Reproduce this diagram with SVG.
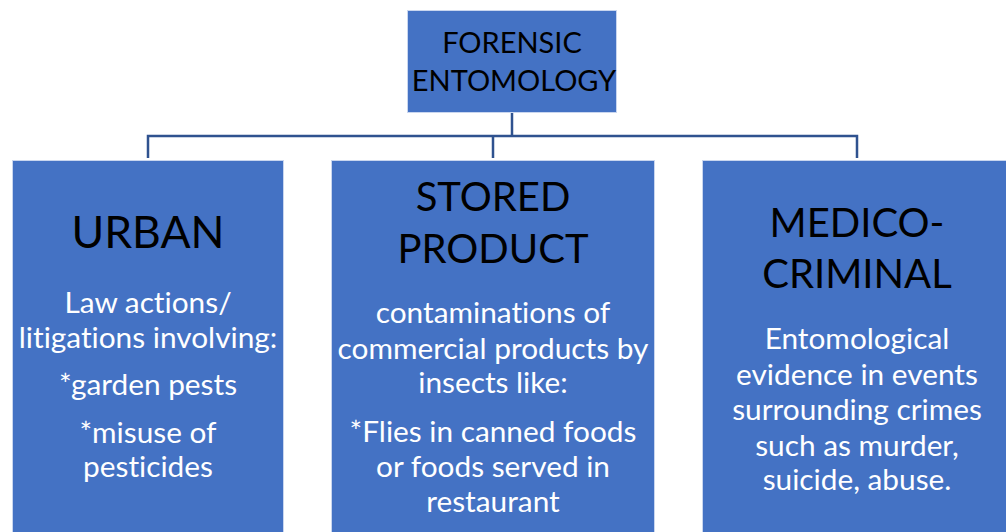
<svg xmlns="http://www.w3.org/2000/svg" width="1006" height="532" viewBox="0 0 1006 532">
  <style>
    .box { fill: #4472C4; stroke: #c9d6ef; stroke-width: 1; }
    .link { fill: none; stroke: #2F528F; stroke-width: 2.5; }
    text { font-family: Lato, "Liberation Sans", sans-serif; text-anchor: middle; font-variant-ligatures: none; }
    .head { fill: #000000; font-size: 29px; }
    .title { fill: #000000; font-size: 40px; }
    .body { fill: #ffffff; font-size: 29.8px; }
  </style>
  <rect width="1006" height="532" fill="#ffffff"/>

  <!-- tree connectors -->
  <g id="connectors">
    <path class="link" d="M512,113 V136"/>
    <path class="link" d="M148,158 V136 H857 V158"/>
    <path class="link" d="M493,136 V158"/>
  </g>

  <!-- root -->
  <g id="node-root">
    <rect class="box" x="407.5" y="10.5" width="209" height="102"/>
    <text class="head" x="512" y="53">FORENSIC</text>
    <text class="head" x="514" y="91">ENTOMOLOGY</text>
  </g>

  <!-- urban -->
  <g id="node-urban">
    <rect class="box" x="12.5" y="160.5" width="271" height="380"/>
    <text class="title" x="148" y="248" style="font-size:44.5px">URBAN</text>
    <text class="body" x="148" y="313">Law actions/</text>
    <text class="body" x="148" y="348">litigations involving:</text>
    <text class="body" x="148" y="395">*garden pests</text>
    <text class="body" x="148" y="443">*misuse of</text>
    <text class="body" x="148" y="477">pesticides</text>
  </g>

  <!-- stored product -->
  <g id="node-stored">
    <rect class="box" x="331.5" y="160.5" width="323" height="380"/>
    <text class="title" x="493" y="211">STORED</text>
    <text class="title" x="493" y="263">PRODUCT</text>
    <text class="body" x="493" y="323">contaminations of</text>
    <text class="body" x="493" y="359">commercial products by</text>
    <text class="body" x="493" y="393">insects like:</text>
    <text class="body" x="493" y="442">*Flies in canned foods</text>
    <text class="body" x="493" y="477">or foods served in</text>
    <text class="body" x="493" y="512">restaurant</text>
  </g>

  <!-- medico-criminal -->
  <g id="node-medico">
    <rect class="box" x="702.5" y="160.5" width="310" height="380"/>
    <text class="title" x="857" y="237">MEDICO-</text>
    <text class="title" x="857" y="288">CRIMINAL</text>
    <text class="body" x="857" y="349">Entomological</text>
    <text class="body" x="857" y="385">evidence in events</text>
    <text class="body" x="857" y="420">surrounding crimes</text>
    <text class="body" x="857" y="456">such as murder,</text>
    <text class="body" x="857" y="490">suicide, abuse.</text>
  </g>
</svg>
